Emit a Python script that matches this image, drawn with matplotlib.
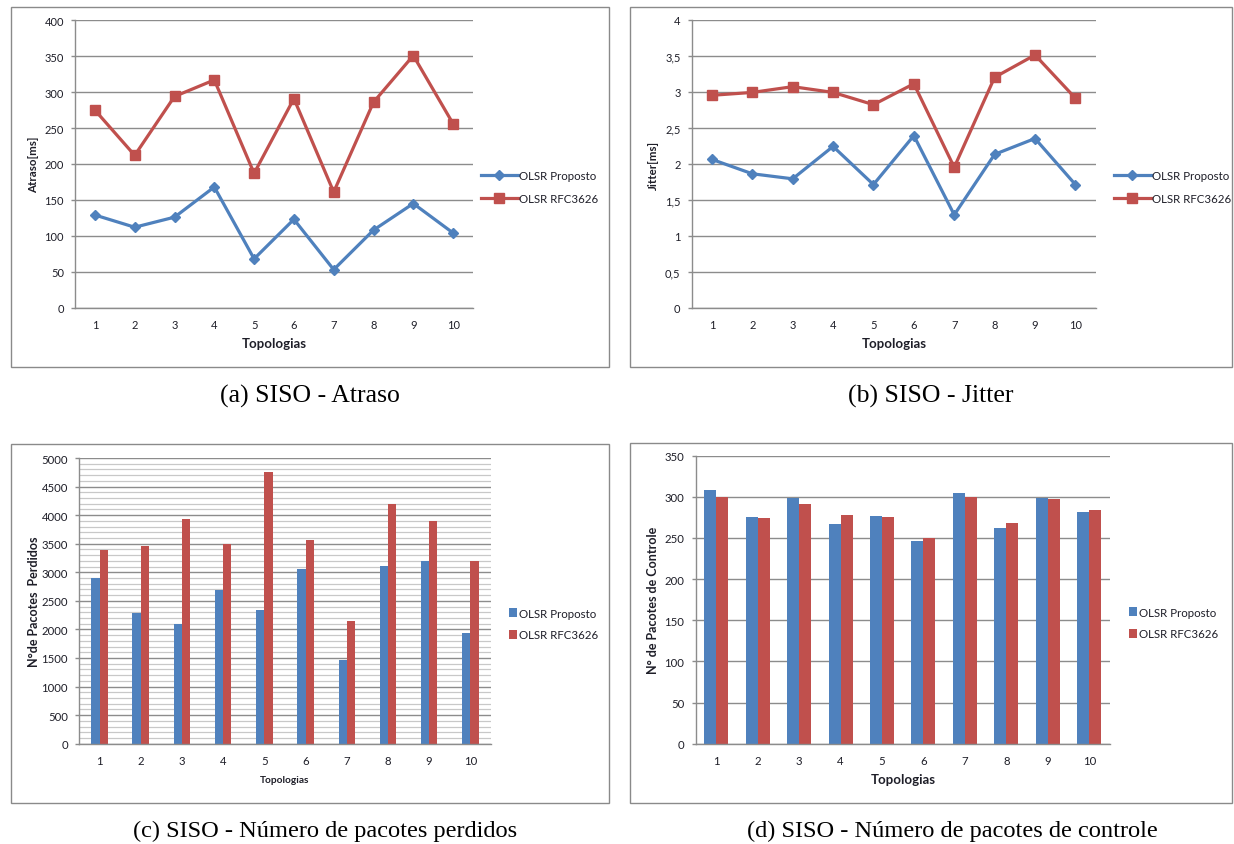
import matplotlib
matplotlib.use("Agg")
import matplotlib.pyplot as plt
from matplotlib.patches import Rectangle
from matplotlib.ticker import MultipleLocator, FuncFormatter
import numpy as np

# ---- data ----
topologias = [1, 2, 3, 4, 5, 6, 7, 8, 9, 10]
series_names = ["OLSR Proposto", "OLSR RFC3626"]

atraso_proposto = [129, 112, 126, 168, 68, 123, 53, 108, 145, 104]
atraso_rfc = [275, 212, 294, 317, 187, 291, 161, 286, 351, 256]

jitter_proposto = [2.06, 1.86, 1.79, 2.24, 1.71, 2.39, 1.29, 2.13, 2.35, 1.71]
jitter_rfc = [2.95, 2.99, 3.07, 2.99, 2.82, 3.11, 1.95, 3.20, 3.51, 2.91]

perdidos_proposto = [2900, 2287, 2100, 2684, 2345, 3063, 1459, 3116, 3197, 1943]
perdidos_rfc = [3390, 3454, 3938, 3495, 4761, 3571, 2141, 4189, 3903, 3191]

controle_proposto = [308, 275, 298, 267, 277, 246, 305, 262, 298, 282]
controle_rfc = [300, 274, 291, 278, 275, 250, 300, 268, 297, 284]

captions = ["(a) SISO - Atraso", "(b) SISO - Jitter",
            "(c) SISO - Número de pacotes perdidos",
            "(d) SISO - Número de pacotes de controle"]

# ---- style ----
W, H = 1234, 845
BLUE = "#4F81BD"
RED = "#C0504D"
GRID = "#8c8c8c"
MINOR = "#c8c8c8"
TXT = "#1e1e28"
FONT = "Lato"

plt.rcParams["font.family"] = [FONT, "DejaVu Sans"]

fig = plt.figure(figsize=(W / 100, H / 100), dpi=100)


def px_axes(x0, y0, x1, y1):
    return fig.add_axes([x0 / W, 1 - y1 / H, (x1 - x0) / W, (y1 - y0) / H])


def frame(x0, y0, x1, y1):
    fig.patches.append(Rectangle((x0 / W, 1 - y1 / H), (x1 - x0) / W, (y1 - y0) / H,
                                 transform=fig.transFigure, fill=False,
                                 edgecolor="#8a8a8a", linewidth=1.0))


def style_axes(ax, tick_size):
    for s in ("top", "right"):
        ax.spines[s].set_visible(False)
    for s in ("left", "bottom"):
        ax.spines[s].set_color(GRID)
        ax.spines[s].set_linewidth(1.0)
    ax.set_xlim(0.5, 10.5)
    ax.set_xticks(topologias)
    ax.tick_params(axis="x", length=0, pad=8, labelsize=tick_size, labelcolor=TXT)
    ax.tick_params(axis="y", length=3, width=1, color=GRID, pad=5,
                   labelsize=tick_size, labelcolor=TXT)
    ax.yaxis.grid(True, color=GRID, linewidth=1.0)
    ax.set_axisbelow(True)


def fig_text(x, y, s, **kw):
    fig.text(x / W, 1 - y / H, s, **kw)


# frames around each chart
frame(11, 8, 609, 368)
frame(630, 8, 1232, 368)
frame(11, 445, 609, 804)
frame(630, 444, 1232, 804)

leg_line = dict(frameon=False, fontsize=8.3, handlelength=3.2, handletextpad=0.1,
                labelspacing=1.05, labelcolor=TXT, borderaxespad=0, borderpad=0,
                bbox_transform=fig.transFigure, loc="center left")
leg_bar = dict(frameon=False, fontsize=8.3, handlelength=0.7, handleheight=0.75,
               handletextpad=0.2, labelspacing=0.95, labelcolor=TXT,
               borderaxespad=0, borderpad=0, bbox_transform=fig.transFigure,
               loc="center left")

# ---- (a) Atraso ----
ax = px_axes(75, 21.3, 473, 308.7)
style_axes(ax, 8)
ax.plot(topologias, atraso_proposto, color=BLUE, lw=2.3, marker="D", ms=5.5,
        label=series_names[0])
ax.plot(topologias, atraso_rfc, color=RED, lw=2.3, marker="s", ms=7,
        label=series_names[1])
ax.set_ylim(0, 400)
ax.yaxis.set_major_locator(MultipleLocator(50))
ax.legend(bbox_to_anchor=(481 / W, 1 - 188 / H), **leg_line)
fig_text(34, 165, "Atraso[ms]", rotation=90, fontsize=8.3, fontweight="bold",
         ha="center", va="center", color=TXT)
fig_text(274, 344, "Topologias", fontsize=9.5, fontweight="bold",
         ha="center", va="center", color=TXT)

# ---- (b) Jitter ----
ax = px_axes(691.7, 20.7, 1095.6, 308.7)
style_axes(ax, 8)
ax.plot(topologias, jitter_proposto, color=BLUE, lw=2.3, marker="D", ms=5.5,
        label=series_names[0])
ax.plot(topologias, jitter_rfc, color=RED, lw=2.3, marker="s", ms=7,
        label=series_names[1])
ax.set_ylim(0, 4)
ax.yaxis.set_major_locator(MultipleLocator(0.5))
ax.yaxis.set_major_formatter(FuncFormatter(lambda v, p: f"{v:g}".replace(".", ",")))
ax.legend(bbox_to_anchor=(1114 / W, 1 - 188 / H), **leg_line)
fig_text(653, 165, "Jitter[ms]", rotation=90, fontsize=8.3, fontweight="bold",
         ha="center", va="center", color=TXT)
fig_text(894, 344, "Topologias", fontsize=9.5, fontweight="bold",
         ha="center", va="center", color=TXT)

# ---- (c) Pacotes perdidos ----
x = np.array(topologias)
ax = px_axes(78.9, 459, 491, 744.7)
style_axes(ax, 8.2)
ax.set_ylim(0, 5000)
ax.yaxis.set_major_locator(MultipleLocator(500))
ax.yaxis.set_minor_locator(MultipleLocator(100))
ax.tick_params(axis="y", which="minor", length=0)
ax.yaxis.grid(True, which="minor", color=MINOR, linewidth=0.9)
ax.yaxis.grid(True, which="major", color=GRID, linewidth=1.0)
bw = 0.2
ax.bar(x - bw / 2, perdidos_proposto, width=bw, color=BLUE, label=series_names[0])
ax.bar(x + bw / 2, perdidos_rfc, width=bw, color=RED, label=series_names[1])
ax.legend(bbox_to_anchor=(509 / W, 1 - 625 / H), **leg_bar)
fig_text(34, 602, "N°de Pacotes  Perdidos", rotation=90, fontsize=9,
         fontweight="bold", ha="center", va="center", color=TXT)
fig_text(285, 781, "Topologias", fontsize=7.3, fontweight="bold",
         ha="center", va="center", color=TXT)

# ---- (d) Pacotes de controle ----
ax = px_axes(695.5, 456.7, 1110, 744.7)
style_axes(ax, 8.2)
ax.set_ylim(0, 350)
ax.yaxis.set_major_locator(MultipleLocator(50))
bw = 0.29
ax.bar(x - bw / 2, controle_proposto, width=bw, color=BLUE, label=series_names[0])
ax.bar(x + bw / 2, controle_rfc, width=bw, color=RED, label=series_names[1])
ax.legend(bbox_to_anchor=(1129 / W, 1 - 624 / H), **leg_bar)
fig_text(653, 600, "N° de Pacotes de Controle", rotation=90, fontsize=9,
         fontweight="bold", ha="center", va="center", color=TXT)
fig_text(903, 780, "Topologias", fontsize=9.5, fontweight="bold",
         ha="center", va="center", color=TXT)

# ---- captions ----
cap_kw = dict(family=["Liberation Serif", "DejaVu Serif"],
              ha="center", va="center", color="black")
fig_text(310, 396, captions[0], fontsize=18.5, **cap_kw)
fig_text(931, 396, captions[1], fontsize=18.5, **cap_kw)
fig_text(325, 831, captions[2], fontsize=17.6, **cap_kw)
fig_text(952, 831, captions[3], fontsize=17.6, **cap_kw)

fig.savefig("out.png", dpi=100, facecolor="white")
